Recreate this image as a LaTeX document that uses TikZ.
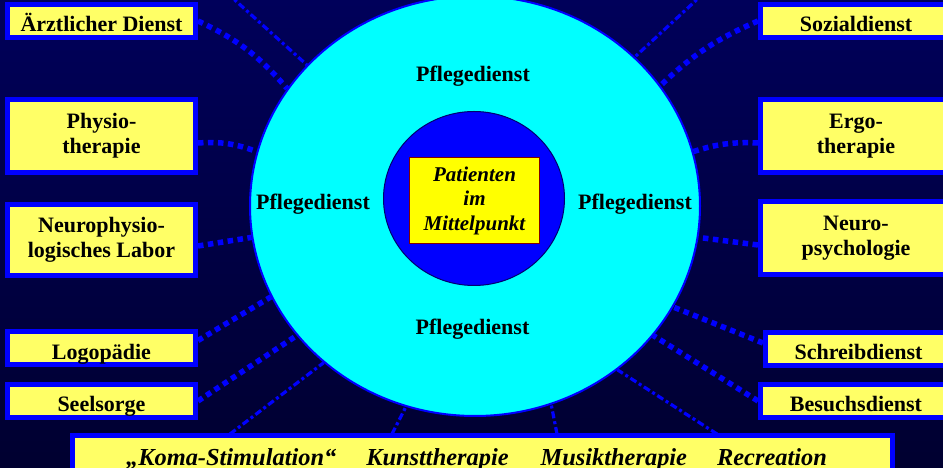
\documentclass[tikz,border=0pt]{standalone}
\usepackage{fontspec}
\setmainfont{Liberation Serif}
\usepackage{tikz}
\usetikzlibrary{shapes.geometric}
\definecolor{bgtop}{RGB}{0,0,90}
\definecolor{bgbottom}{RGB}{0,0,48}
\definecolor{linkblue}{RGB}{0,0,255}
\definecolor{boxyellow}{RGB}{255,255,102}
\definecolor{ringcyan}{RGB}{0,255,255}
\definecolor{corerim}{RGB}{0,0,110}
\definecolor{centeryellow}{RGB}{255,255,0}
\definecolor{centerrim}{RGB}{128,0,0}

\begin{document}
\begin{tikzpicture}[x=1pt, y=1pt,
  font=\fontsize{22}{25}\selectfont\bfseries,
  box/.style={draw=linkblue, line width=5pt, fill=boxyellow, inner xsep=2pt,
              align=center},
  lowbox/.style={box, inner ysep=0pt, text height=27.5pt, text depth=5.5pt},
  highbox/.style={box, minimum height=73pt},
  thickdots/.style={draw=linkblue, line width=5.5pt,
                    dash pattern=on 5.5pt off 4.5pt},
  dashdots/.style={draw=linkblue, line width=3.2pt,
                   dash pattern=on 7pt off 3pt on 3pt off 3pt}]

  \useasboundingbox (0,0) rectangle (943,468);
  \shade[top color=bgtop, bottom color=bgbottom] (0,0) rectangle (943,468);
  \clip (0,0) rectangle (943,468);

  % rings
  \node[ellipse, draw=linkblue, line width=2pt, fill=ringcyan, inner sep=0pt,
        minimum width=450pt, minimum height=420pt] (pflege) at (475,262) {};
  \node[ellipse, draw=corerim, line width=1pt, fill=linkblue, inner sep=0pt,
        minimum width=181pt, minimum height=174pt] (core) at (474,269.5) {};
  \node[draw=centerrim, line width=1.2pt, fill=centeryellow, inner sep=0pt,
        minimum width=130pt, minimum height=86pt, align=center,
        font=\fontsize{21}{24.5}\selectfont\bfseries\itshape] (patient)
    at (474.5,267.5) {Patienten\\ im\\ Mittelpunkt};

  \node[anchor=base] (pfl-n) at (473,386) {Pflegedienst};
  \node[anchor=base] (pfl-w) at (313,258) {Pflegedienst};
  \node[anchor=base] (pfl-e) at (635,258) {Pflegedienst};
  \node[anchor=base] (pfl-s) at (472.5,133) {Pflegedienst};

  % left column
  \node[lowbox, minimum width=188pt] (arzt) at (101.5,447) {Ärztlicher Dienst};
  \node[highbox, minimum width=188pt] (physio) at (101.5,332)
    {Physio-\\ therapie};
  \node[highbox, minimum width=188pt, minimum height=71pt] (neurophys)
    at (101.5,228) {Neurophysio-\\ logisches Labor};
  \node[lowbox, minimum width=188pt] (logo) at (101.5,119.5) {Logopädie};
  \node[lowbox, minimum width=188pt] (seel) at (101.5,67) {Seelsorge};

  % right column
  \node[lowbox, minimum width=191pt] (sozial) at (856,447) {Sozialdienst};
  \node[highbox, minimum width=191pt] (ergo) at (856,332) {Ergo-\\ therapie};
  \node[highbox, minimum width=191pt] (neuropsy) at (856,230)
    {Neuro-\\ psychologie};
  \node[lowbox, minimum width=186pt] (schreib) at (858.5,119) {Schreibdienst};
  \node[lowbox, minimum width=191pt] (besuch) at (856,67) {Besuchsdienst};

  % bottom strip
  \node[box, inner ysep=0pt, text height=30.5pt, text depth=30.5pt,
        minimum width=820pt,
        font=\fontsize{24.4}{28}\selectfont\bfseries\itshape] (extra)
    at (482.5,2) {„Koma-Stimulation“\hspace{30pt}Kunsttherapie\hspace{32pt}%
      Musiktherapie\hspace{30pt}Recreation\hspace{12pt}};

  \coordinate (top-l) at (227,475);
  \coordinate (top-r) at (704,475);
  \coordinate (k1) at (230,34);
  \coordinate (k2) at (392,34);
  \coordinate (k3) at (557,34);
  \coordinate (k4) at (717,34);

  % links
  \draw[thickdots] (arzt.east) to[bend left=12] (pflege.148);
  \draw[thickdots] (sozial.west) to[bend right=10] (pflege.33);
  \draw[thickdots] ([yshift=-7pt]physio.east) to[bend left=12] (pflege.166);
  \draw[thickdots] ([yshift=-7pt]ergo.west) to[bend right=10] (pflege.14);
  \draw[thickdots] ([yshift=-6pt]neurophys.east) -- (pflege.188);
  \draw[thickdots] ([yshift=-7pt]neuropsy.west) -- (pflege.352);
  \draw[thickdots] ([yshift=8pt]logo.east) -- (pflege.204);
  \draw[thickdots] ([yshift=6pt]schreib.west) -- (pflege.333);
  \draw[thickdots] (seel.east) -- (pflege.216);
  \draw[thickdots] (besuch.west) -- (pflege.324);
  \draw[dashdots] (top-l) -- (pflege.140);
  \draw[dashdots] (top-r) -- (pflege.43);
  \draw[dashdots] (k1) -- (pflege.226);
  \draw[dashdots] (k2) -- (pflege.251);
  \draw[dashdots] (k3) -- (pflege.291);
  \draw[dashdots] (k4) -- (pflege.311);
\end{tikzpicture}
\end{document}
